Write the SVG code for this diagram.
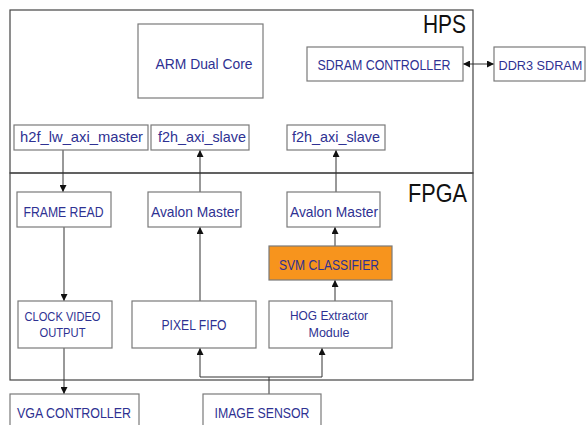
<svg xmlns="http://www.w3.org/2000/svg" width="586" height="425" viewBox="0 0 586 425">
<defs>
<style>
.frame{fill:none;stroke:#444;stroke-width:1.2}
.box{fill:#fff;stroke:#7a7a7a;stroke-width:1.2}
.orange{fill:#f7941d;stroke:#7a7a7a;stroke-width:1.2}
.lbl{font-family:"Liberation Sans",Arial,sans-serif;fill:#2e3192;text-anchor:middle}
.t15{font-size:15px}
.t14{font-size:14px}
.t12{font-size:12.5px}
.big{font-family:"Liberation Sans",Arial,sans-serif;font-size:25px;fill:#111;text-anchor:end}
.conn{fill:none;stroke:#333;stroke-width:1}
</style>
<marker id="ah" viewBox="0 0 10 10" refX="10" refY="5" markerWidth="7" markerHeight="7" markerUnits="userSpaceOnUse" orient="auto-start-reverse">
<path d="M0,0 L10,5 L0,10 z" fill="#111"/>
</marker>
</defs>
<rect width="586" height="425" fill="#fff"/>

<g id="hps-frame">
<rect class="frame" x="10" y="10" width="463" height="163"/>
<text class="big" x="466" y="33" textLength="43" lengthAdjust="spacingAndGlyphs">HPS</text>
</g>
<g id="fpga-frame">
<rect class="frame" x="10" y="173" width="463" height="207"/>
<text class="big" x="467" y="202" textLength="59" lengthAdjust="spacingAndGlyphs">FPGA</text>
</g>

<g id="connectors">
<line class="conn" x1="463" y1="64" x2="494" y2="64" marker-start="url(#ah)" marker-end="url(#ah)"/>
<line class="conn" x1="63" y1="150" x2="63" y2="192" marker-end="url(#ah)"/>
<line class="conn" x1="200" y1="192" x2="200" y2="150" marker-end="url(#ah)"/>
<line class="conn" x1="336" y1="192" x2="336" y2="150" marker-end="url(#ah)"/>
<line class="conn" x1="64" y1="227" x2="64" y2="301" marker-end="url(#ah)"/>
<line class="conn" x1="200" y1="301" x2="200" y2="227" marker-end="url(#ah)"/>
<line class="conn" x1="335" y1="246" x2="335" y2="227" marker-end="url(#ah)"/>
<line class="conn" x1="335" y1="301" x2="335" y2="280" marker-end="url(#ah)"/>
<line class="conn" x1="64" y1="348" x2="64" y2="394" marker-end="url(#ah)"/>
<line class="conn" x1="269" y1="394" x2="269" y2="377"/>
<polyline class="conn" points="200,348 200,377 322,377 322,348" marker-start="url(#ah)" marker-end="url(#ah)"/>
</g>

<g id="arm">
<rect class="box" x="138" y="24" width="125" height="74"/>
<text class="lbl t15" x="204" y="69" textLength="97" lengthAdjust="spacingAndGlyphs">ARM Dual Core</text>
</g>
<g id="sdram-controller">
<rect class="box" x="307" y="47" width="156" height="34"/>
<text class="lbl t14" x="384" y="69.5" textLength="133" lengthAdjust="spacingAndGlyphs">SDRAM CONTROLLER</text>
</g>
<g id="ddr3">
<rect class="box" x="494" y="47" width="91" height="34"/>
<text class="lbl" x="498.5" y="69.5" style="text-anchor:start;font-size:12.7px">DDR3 SDRAM</text>
</g>
<g id="h2f-lw-axi-master">
<rect class="box" x="14" y="125" width="134" height="25"/>
<text class="lbl t15" x="81.5" y="142" textLength="123" lengthAdjust="spacingAndGlyphs">h2f_lw_axi_master</text>
</g>
<g id="f2h-axi-slave-1">
<rect class="box" x="151" y="125" width="98" height="25"/>
<text class="lbl t15" x="202" y="142" textLength="88" lengthAdjust="spacingAndGlyphs">f2h_axi_slave</text>
</g>
<g id="f2h-axi-slave-2">
<rect class="box" x="287" y="125" width="98" height="25"/>
<text class="lbl t15" x="336" y="142" textLength="88" lengthAdjust="spacingAndGlyphs">f2h_axi_slave</text>
</g>
<g id="frame-read">
<rect class="box" x="17" y="192" width="94" height="35"/>
<text class="lbl t14" x="63.5" y="216.5" textLength="80" lengthAdjust="spacingAndGlyphs">FRAME READ</text>
</g>
<g id="avalon-master-1">
<rect class="box" x="148" y="192" width="93" height="35"/>
<text class="lbl t15" x="195" y="217" textLength="88" lengthAdjust="spacingAndGlyphs">Avalon Master</text>
</g>
<g id="avalon-master-2">
<rect class="box" x="287" y="192" width="93" height="35"/>
<text class="lbl t15" x="334" y="217" textLength="88" lengthAdjust="spacingAndGlyphs">Avalon Master</text>
</g>
<g id="svm-classifier">
<rect class="orange" x="269" y="246" width="123" height="34"/>
<text class="lbl t14" x="329" y="270" textLength="100" lengthAdjust="spacingAndGlyphs">SVM CLASSIFIER</text>
</g>
<g id="clock-video-output">
<rect class="box" x="18" y="301" width="94" height="47"/>
<text class="lbl t12" x="62.5" y="320.5" textLength="76" lengthAdjust="spacingAndGlyphs">CLOCK VIDEO</text>
<text class="lbl t12" x="62.5" y="337" textLength="46" lengthAdjust="spacingAndGlyphs">OUTPUT</text>
</g>
<g id="pixel-fifo">
<rect class="box" x="132" y="301" width="124" height="47"/>
<text class="lbl t14" x="194" y="330" textLength="65" lengthAdjust="spacingAndGlyphs">PIXEL FIFO</text>
</g>
<g id="hog-extractor">
<rect class="box" x="269" y="301" width="123" height="47"/>
<text class="lbl t12" x="329" y="320" textLength="78" lengthAdjust="spacingAndGlyphs">HOG Extractor</text>
<text class="lbl t12" x="329" y="336.5" textLength="41" lengthAdjust="spacingAndGlyphs">Module</text>
</g>
<g id="vga-controller">
<rect class="box" x="10" y="394" width="129" height="40"/>
<text class="lbl t14" x="74" y="418" textLength="114" lengthAdjust="spacingAndGlyphs">VGA CONTROLLER</text>
</g>
<g id="image-sensor">
<rect class="box" x="203" y="394" width="118" height="40"/>
<text class="lbl t14" x="262" y="418" textLength="95" lengthAdjust="spacingAndGlyphs">IMAGE SENSOR</text>
</g>
</svg>
